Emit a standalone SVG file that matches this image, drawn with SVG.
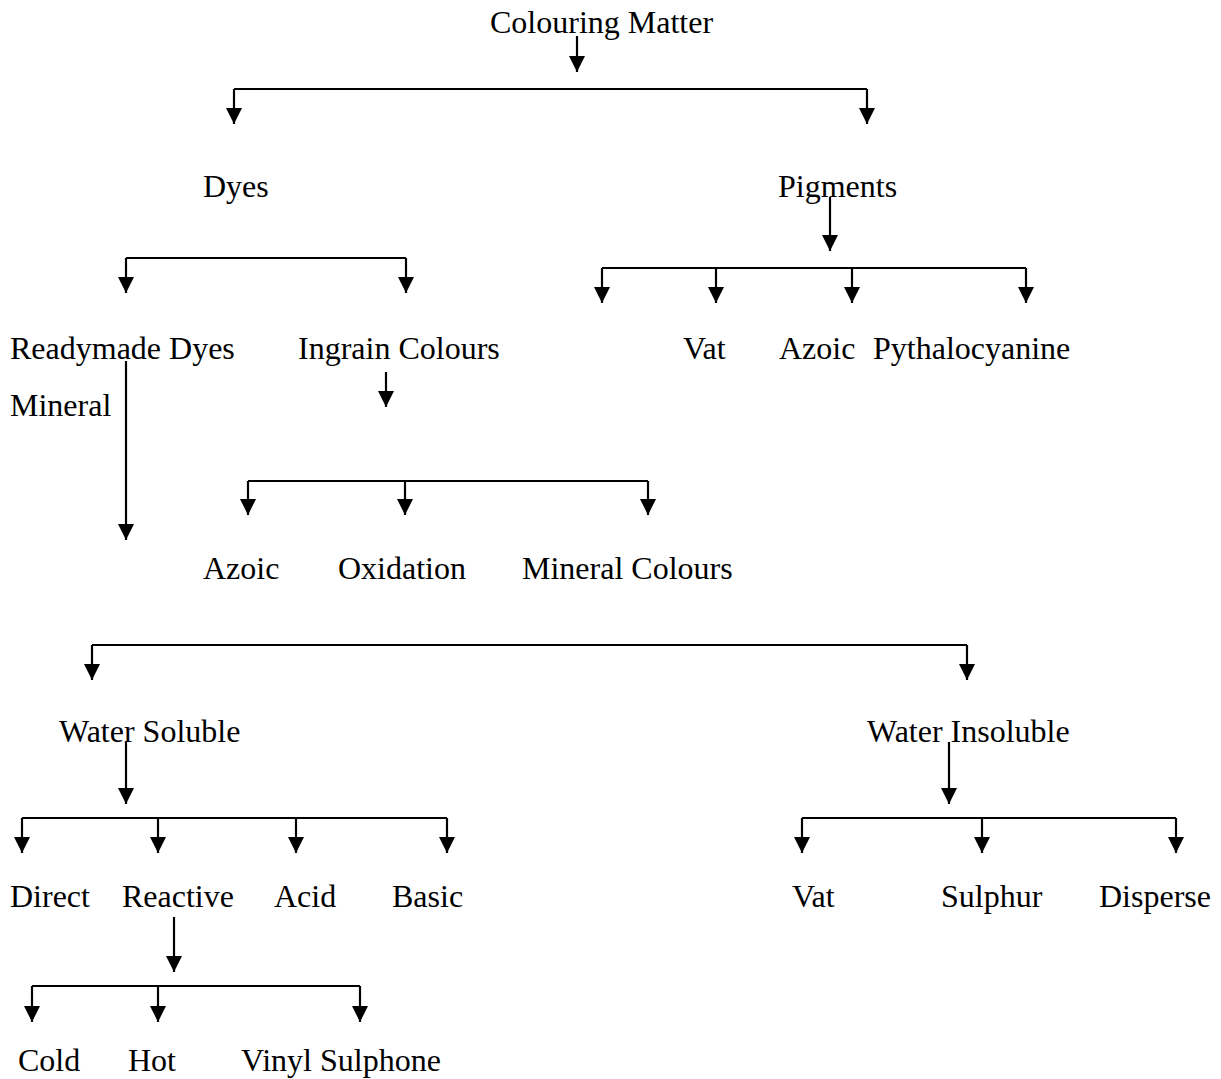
<svg xmlns="http://www.w3.org/2000/svg" width="1221" height="1079" viewBox="0 0 1221 1079">
<style>
text{font-family:"Liberation Serif","Times New Roman",serif;font-size:32px;fill:#000}
.c line,.c polyline{stroke:#000;stroke-width:2.2;fill:none}
</style>
<defs>
<marker id="ah" markerUnits="userSpaceOnUse" markerWidth="18" markerHeight="18" refX="16" refY="8" orient="auto">
<path d="M0,0 L16,8 L0,16 z" fill="#000"/>
</marker>
</defs>
<rect width="1221" height="1079" fill="#fff"/>
<g class="c" id="connectors">
<line x1="577" y1="36" x2="577" y2="72" marker-end="url(#ah)"/>
<line x1="234" y1="89" x2="867" y2="89"/>
<line x1="234" y1="89" x2="234" y2="124" marker-end="url(#ah)"/>
<line x1="867" y1="89" x2="867" y2="124" marker-end="url(#ah)"/>
<line x1="126" y1="258" x2="406" y2="258"/>
<line x1="126" y1="258" x2="126" y2="293" marker-end="url(#ah)"/>
<line x1="406" y1="258" x2="406" y2="293" marker-end="url(#ah)"/>
<line x1="830" y1="197" x2="830" y2="251" marker-end="url(#ah)"/>
<line x1="602" y1="268" x2="1026" y2="268"/>
<line x1="602" y1="268" x2="602" y2="303" marker-end="url(#ah)"/>
<line x1="716" y1="268" x2="716" y2="303" marker-end="url(#ah)"/>
<line x1="852" y1="268" x2="852" y2="303" marker-end="url(#ah)"/>
<line x1="1026" y1="268" x2="1026" y2="303" marker-end="url(#ah)"/>
<line x1="126" y1="361" x2="126" y2="540" marker-end="url(#ah)"/>
<line x1="386" y1="372" x2="386" y2="407" marker-end="url(#ah)"/>
<line x1="248" y1="481" x2="648" y2="481"/>
<line x1="248" y1="481" x2="248" y2="515" marker-end="url(#ah)"/>
<line x1="405" y1="481" x2="405" y2="515" marker-end="url(#ah)"/>
<line x1="648" y1="481" x2="648" y2="515" marker-end="url(#ah)"/>
<line x1="92" y1="645" x2="967" y2="645"/>
<line x1="92" y1="645" x2="92" y2="680" marker-end="url(#ah)"/>
<line x1="967" y1="645" x2="967" y2="680" marker-end="url(#ah)"/>
<line x1="126" y1="742" x2="126" y2="804" marker-end="url(#ah)"/>
<line x1="22" y1="818" x2="447" y2="818"/>
<line x1="22" y1="818" x2="22" y2="853" marker-end="url(#ah)"/>
<line x1="158" y1="818" x2="158" y2="853" marker-end="url(#ah)"/>
<line x1="296" y1="818" x2="296" y2="853" marker-end="url(#ah)"/>
<line x1="447" y1="818" x2="447" y2="853" marker-end="url(#ah)"/>
<line x1="949" y1="742" x2="949" y2="804" marker-end="url(#ah)"/>
<line x1="802" y1="818" x2="1176" y2="818"/>
<line x1="802" y1="818" x2="802" y2="853" marker-end="url(#ah)"/>
<line x1="982" y1="818" x2="982" y2="853" marker-end="url(#ah)"/>
<line x1="1176" y1="818" x2="1176" y2="853" marker-end="url(#ah)"/>
<line x1="174" y1="917" x2="174" y2="972" marker-end="url(#ah)"/>
<line x1="32" y1="986" x2="360" y2="986"/>
<line x1="32" y1="986" x2="32" y2="1022" marker-end="url(#ah)"/>
<line x1="158" y1="986" x2="158" y2="1022" marker-end="url(#ah)"/>
<line x1="360" y1="986" x2="360" y2="1022" marker-end="url(#ah)"/>
</g>
<g id="n-colouring"><text x="490" y="33">Colouring Matter</text></g>
<g id="n-dyes"><text x="203" y="197">Dyes</text></g>
<g id="n-pigments"><text x="778" y="197">Pigments</text></g>
<g id="n-readymade"><text x="10" y="359">Readymade Dyes</text></g>
<g id="n-ingrain"><text x="298" y="359">Ingrain Colours</text></g>
<g id="n-mineral"><text x="10" y="416">Mineral</text></g>
<g id="n-pig-vat"><text x="683" y="359">Vat</text></g>
<g id="n-pig-azoic"><text x="779" y="359">Azoic</text></g>
<g id="n-pythalo"><text x="873" y="359">Pythalocyanine</text></g>
<g id="n-azoic"><text x="203" y="579">Azoic</text></g>
<g id="n-oxidation"><text x="338" y="579">Oxidation</text></g>
<g id="n-mineral-colours"><text x="522" y="579">Mineral Colours</text></g>
<g id="n-water-soluble"><text x="59" y="742">Water Soluble</text></g>
<g id="n-water-insoluble"><text x="867" y="742">Water Insoluble</text></g>
<g id="n-direct"><text x="10" y="907">Direct</text></g>
<g id="n-reactive"><text x="122" y="907">Reactive</text></g>
<g id="n-acid"><text x="274" y="907">Acid</text></g>
<g id="n-basic"><text x="392" y="907">Basic</text></g>
<g id="n-vat"><text x="792" y="907">Vat</text></g>
<g id="n-sulphur"><text x="941" y="907">Sulphur</text></g>
<g id="n-disperse"><text x="1099" y="907">Disperse</text></g>
<g id="n-cold"><text x="18" y="1071">Cold</text></g>
<g id="n-hot"><text x="128" y="1071">Hot</text></g>
<g id="n-vinyl"><text x="241" y="1071">Vinyl Sulphone</text></g>
</svg>
